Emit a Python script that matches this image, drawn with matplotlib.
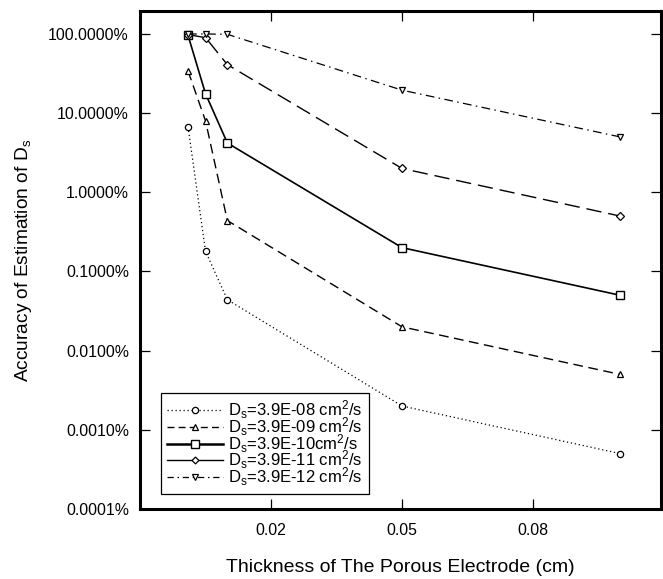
import matplotlib
matplotlib.use("Agg")
import matplotlib.pyplot as plt
from matplotlib.lines import Line2D
from matplotlib.ticker import FixedLocator, FuncFormatter, NullLocator

plt.rcParams['font.family'] = ['Liberation Sans', 'DejaVu Sans']
plt.rcParams['mathtext.fontset'] = 'custom'
plt.rcParams['mathtext.rm'] = 'Liberation Sans'
plt.rcParams['mathtext.it'] = 'Liberation Sans'
plt.rcParams['mathtext.bf'] = 'Liberation Sans:bold'

# ---- data ----
thickness = [0.001, 0.005, 0.01, 0.05, 0.1]   # cm
acc_e08 = [6.7, 0.18, 0.044, 0.002, 0.0005]    # %
acc_e09 = [34.0, 8.0, 0.44, 0.02, 0.005]
acc_e10 = [96.0, 17.6, 4.2, 0.2, 0.05]
acc_e11 = [98.0, 90.0, 41.0, 2.0, 0.5]
acc_e12 = [100.0, 100.0, 99.0, 19.5, 5.0]
labels = [r'D$_s$=3.9E-08 cm$^2$/s', r'D$_s$=3.9E-09 cm$^2$/s',
          r'D$_s$=3.9E-10cm$^2$/s', r'D$_s$=3.9E-11 cm$^2$/s',
          r'D$_s$=3.9E-12 cm$^2$/s']
xticks = [0.02, 0.05, 0.08]
yticks = [0.0001, 0.001, 0.01, 0.1, 1, 10, 100]

fig = plt.figure(figsize=(6.63, 5.79), dpi=100)
ax = fig.add_axes([140/663, 1-509/579, 521/663, 498/579])

mk = dict(color='black', markerfacecolor='white', markeredgecolor='black')
ax.plot(thickness, acc_e08, linestyle=(0, (1, 2.2)), lw=0.9, marker='o', ms=4.5, mew=0.9, **mk)
ax.plot(thickness, acc_e09, linestyle=(0, (7, 4)), lw=1.0, marker='^', ms=4.5, mew=0.9, **mk)
ax.plot(thickness, acc_e10, linestyle='-', lw=1.2, marker='s', ms=5.5, mew=1.0, **mk)
ax.plot(thickness, acc_e11, linestyle=(0, (11, 5)), lw=1.0, marker='D', ms=3.8, mew=0.9, **mk)
ax.plot(thickness, acc_e12, linestyle=(0, (7, 3.5, 1.2, 3.5)), lw=0.9, marker='v', ms=5, mew=0.9, **mk)

ax.set_yscale('log')
ax.set_ylim(1e-4, 195)
ax.set_xlim(-0.01, 0.1093)
ax.xaxis.set_major_locator(FixedLocator(xticks))
ax.xaxis.set_major_formatter(FuncFormatter(lambda v, p: f"{v:.2f}"))
ax.yaxis.set_major_locator(FixedLocator(yticks))
ax.yaxis.set_minor_locator(NullLocator())
ax.yaxis.set_major_formatter(FuncFormatter(lambda v, p: f"{v:.4f}%"))

ax.tick_params(axis='both', which='major', direction='in', length=7, width=0.9,
               top=True, right=True, labelsize=11.4, pad=8, color='black')
ax.tick_params(axis='x', pad=10)
for s in ax.spines.values():
    s.set_linewidth(2.2)

ax.set_xlabel('Thickness of The Porous Electrode (cm)', fontsize=14, labelpad=15)
ax.set_ylabel('Accuracy of Estimation of D$_s$', fontsize=13.8, labelpad=10)

handles = [
    Line2D([], [], linestyle=(0, (1, 2.2)), lw=0.9, marker='o', ms=4.5, mew=0.9, **mk),
    Line2D([], [], linestyle=(0, (5, 3)), lw=1.0, marker='^', ms=4.5, mew=0.9, **mk),
    Line2D([], [], linestyle='-', lw=1.8, marker='s', ms=5.5, mew=1.0, **mk),
    Line2D([], [], linestyle='-', lw=1.0, marker='D', ms=3.5, mew=0.9, **mk),
    Line2D([], [], linestyle=(0, (5, 3, 1.2, 3)), lw=0.9, marker='v', ms=5, mew=0.9, **mk),
]
leg = ax.legend(handles, labels, loc='lower left', bbox_to_anchor=(0.040, 0.030),
                borderaxespad=0, fontsize=12, handlelength=3.4, handletextpad=0.3,
                labelspacing=-0.35, borderpad=0.35, fancybox=False, framealpha=1,
                edgecolor='black', numpoints=1)
leg.get_frame().set_linewidth(0.9)

fig.savefig('out.png', dpi=100)
